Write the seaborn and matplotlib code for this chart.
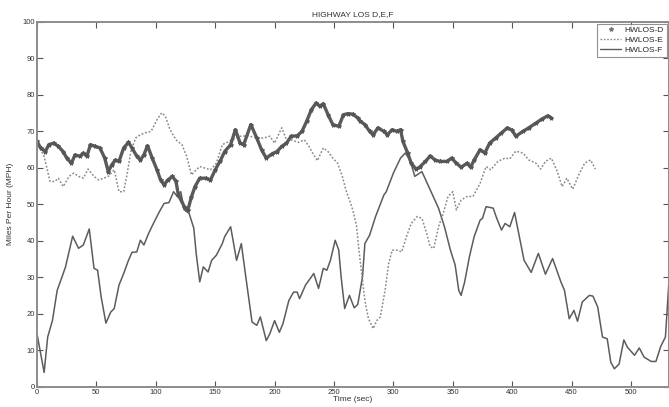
import numpy as np
import pandas as pd
import matplotlib
matplotlib.use("Agg")
import matplotlib.pyplot as plt
from matplotlib.lines import Line2D
import seaborn as sns

# ------------------------------#
# Data
# ------------------------------#
t_d = [0, 3, 7, 10, 14, 18, 22, 25, 29, 32, 36, 39, 42, 45, 49, 53, 57, 60, 63, 66, 69,
       73, 77, 80, 84, 87, 90, 93, 97, 101, 104, 107, 110, 114, 117, 119, 124, 127, 130,
       133, 137, 142, 146, 150, 154, 158, 163, 167, 171, 174, 180, 185, 189, 193, 198,
       202, 206, 210, 214, 219, 223, 227, 231, 235, 238, 241, 245, 249, 254, 258, 262,
       266, 270, 272, 276, 280, 283, 287, 292, 295, 299, 303, 306, 308, 312, 315, 319,
       322, 327, 331, 335, 339, 345, 349, 353, 357, 362, 365, 368, 373, 377, 381, 386,
       391, 396, 400, 403, 409, 414, 420, 425, 430, 433]
v_d = [67.2, 65.4, 64.4, 66.3, 66.7, 65.8, 64.4, 62.6, 61.2, 63.5, 63.1, 64.0, 63.1, 66.3,
       65.8, 65.4, 62.6, 58.9, 60.8, 62.1, 61.7, 65.4, 66.9, 65.4, 63.1, 62.1, 63.5, 66.0,
       62.6, 59.4, 56.6, 55.3, 56.6, 57.6, 56.2, 52.5, 49.3, 48.4, 52.0, 54.8, 57.1, 57.1,
       56.6, 59.4, 61.7, 64.4, 66.3, 70.4, 66.7, 66.3, 71.8, 68.1, 64.9, 62.6, 63.8, 64.4,
       65.8, 66.7, 68.6, 68.7, 69.9, 72.7, 75.9, 77.7, 76.8, 77.5, 74.5, 71.8, 71.3, 74.5,
       74.8, 74.6, 73.6, 72.7, 71.8, 69.9, 69.0, 70.9, 69.9, 69.0, 70.4, 69.9, 70.4, 67.2,
       64.0, 61.2, 59.6, 60.1, 61.7, 63.2, 62.1, 61.7, 61.7, 62.6, 61.2, 60.1, 61.2, 60.1,
       62.1, 64.9, 64.0, 66.7, 68.1, 69.5, 70.9, 70.2, 68.6, 69.9, 70.9, 72.2, 73.3, 74.2,
       73.6]

t_e = [0, 6, 11, 15, 18, 22, 27, 31, 35, 39, 43, 48, 52, 56, 60, 65, 69, 73, 76, 79, 83,
       87, 91, 96, 101, 105, 108, 112, 117, 122, 126, 130, 134, 137, 146, 151, 156, 160,
       164, 171, 178, 185, 191, 196, 200, 206, 210, 214, 220, 225, 229, 232, 236, 241,
       245, 249, 253, 257, 260, 263, 266, 269, 271, 274, 276, 279, 283, 286, 289, 293,
       296, 299, 303, 307, 311, 315, 320, 324, 328, 331, 334, 338, 342, 346, 350, 353,
       357, 362, 367, 373, 378, 382, 388, 394, 398, 403, 409, 414, 420, 424, 428, 433,
       438, 442, 446, 451, 456, 461, 466, 470]
v_e = [67.0, 63.0, 56.2, 56.2, 57.1, 54.8, 57.6, 58.5, 57.6, 57.1, 59.6, 57.6, 56.6, 57.1,
       57.6, 59.4, 53.4, 53.4, 58.5, 64.4, 68.1, 69.0, 69.5, 69.9, 73.1, 75.0, 74.1, 70.4,
       67.6, 66.3, 63.1, 58.0, 59.4, 60.3, 59.4, 61.2, 66.3, 66.9, 67.6, 68.6, 68.7, 68.1,
       68.1, 68.6, 66.7, 70.9, 67.6, 67.6, 66.9, 67.6, 65.8, 64.0, 61.9, 65.4, 64.4, 62.6,
       61.2, 57.6, 53.9, 51.1, 48.2, 44.0, 37.4, 29.1, 23.6, 18.6, 15.9, 18.1, 19.1, 26.4,
       33.7, 37.4, 37.4, 36.9, 41.1, 44.7, 46.6, 46.1, 42.0, 38.3, 37.9, 43.8, 47.5, 52.1,
       53.4, 48.4, 51.1, 52.1, 52.1, 55.7, 60.3, 59.4, 61.7, 62.6, 62.4, 64.5, 64.0, 62.1,
       61.2, 59.6, 61.7, 62.6, 58.9, 54.8, 57.1, 54.1, 58.0, 61.2, 62.1, 59.6]

t_f = [0, 6, 9, 13, 17, 21, 24, 30, 35, 39, 44, 48, 51, 54, 58, 62, 65, 69, 73, 77, 80,
       84, 87, 90, 94, 98, 103, 107, 111, 115, 118, 121, 124, 128, 132, 134, 137, 140,
       144, 147, 151, 156, 158, 163, 168, 172, 175, 181, 185, 188, 193, 196, 200, 204,
       207, 212, 216, 219, 221, 226, 230, 233, 237, 241, 244, 247, 251, 254, 256, 259,
       263, 267, 270, 274, 276, 280, 285, 292, 294, 300, 306, 310, 314, 318, 324, 331,
       338, 343, 348, 352, 355, 357, 360, 364, 368, 373, 375, 378, 384, 387, 391, 394,
       398, 402, 406, 410, 416, 422, 428, 434, 441, 444, 448, 452, 455, 459, 465, 468,
       472, 476, 480, 483, 486, 490, 494, 497, 503, 507, 511, 517, 521, 525, 529, 532]
v_f = [14.5, 3.9, 13.6, 18.1, 26.4, 30.0, 32.8, 41.2, 37.9, 38.8, 43.2, 32.4, 31.9, 24.6,
       17.4, 20.4, 21.4, 27.8, 31.0, 34.6, 36.8, 36.9, 40.1, 38.8, 42.0, 44.7, 47.9, 50.2,
       50.4, 53.4, 52.1, 53.4, 48.4, 47.5, 43.4, 36.5, 28.7, 32.8, 31.4, 34.6, 36.0, 39.2,
       41.1, 43.8, 34.6, 39.2, 31.9, 17.7, 16.8, 19.1, 12.6, 14.5, 18.1, 14.9, 17.2, 23.6,
       25.9, 25.9, 24.1, 27.8, 29.6, 31.0, 26.9, 32.4, 31.9, 34.6, 40.1, 37.4, 30.1, 21.4,
       25.0, 21.6, 22.5, 30.1, 39.2, 41.5, 46.6, 52.5, 53.4, 58.5, 62.6, 64.0, 62.1, 57.6,
       58.9, 53.9, 48.9, 43.8, 37.4, 33.3, 26.4, 25.0, 28.7, 35.6, 41.1, 45.6, 46.1, 49.3,
       48.9, 46.1, 42.9, 44.7, 43.8, 47.7, 41.1, 34.6, 31.3, 36.5, 30.8, 35.1, 28.7, 26.4,
       18.6, 20.9, 17.9, 23.2, 25.0, 24.8, 21.8, 13.6, 13.1, 6.7, 4.9, 6.2, 12.8, 10.8, 8.6,
       10.6, 8.1, 6.9, 6.9, 11.0, 13.6, 29.1]

x_ticks = [0, 50, 100, 150, 200, 250, 300, 350, 400, 450, 500]
y_ticks = [0, 10, 20, 30, 40, 50, 60, 70, 80, 90, 100]

df_d = pd.DataFrame({"Time": t_d, "MPH": v_d})
df_e = pd.DataFrame({"Time": t_e, "MPH": v_e})
df_f = pd.DataFrame({"Time": t_f, "MPH": v_f})

# ------------------------------#
# Plot
# ------------------------------#
sns.set_theme(style="ticks")
plt.rcParams["font.family"] = ["Liberation Sans", "DejaVu Sans"]

fig = plt.figure(figsize=(6.69, 4.07), dpi=100)
ax = fig.add_axes([0.0553, 0.05, 0.9447, 0.897])

sns.lineplot(data=df_f, x="Time", y="MPH", ax=ax, color="#5c5c5c", linewidth=1.1,
             estimator=None, sort=False)
sns.lineplot(data=df_e, x="Time", y="MPH", ax=ax, color="#8a8a8a", linewidth=1.1,
             linestyle=(0, (1.2, 1.2)), estimator=None, sort=False)
sns.lineplot(data=df_d, x="Time", y="MPH", ax=ax, color="#5a5a5a", linewidth=2.4,
             marker="*", markersize=3, markeredgecolor="#555555",
             markerfacecolor="#555555", estimator=None, sort=False)

ax.set_xlim(0, 532)
ax.set_ylim(0, 100)
ax.set_xticks(x_ticks)
ax.set_yticks(y_ticks)
ax.tick_params(direction="in", length=4, width=0.8, color="#555555", labelsize=5.5,
               labelcolor="#333333", top=True, right=True, pad=1.5)
for s in ax.spines.values():
    s.set_color("#8c8c8c")
    s.set_linewidth(1.4)

ax.set_title("HIGHWAY LOS D,E,F", fontsize=6, color="#333333", pad=4)
ax.set_xlabel("Time (sec)", fontsize=6, color="#333333", labelpad=0)
ax.set_ylabel("Miles Per Hour (MPH)", fontsize=6, color="#333333", labelpad=6)

handles = [
    Line2D([], [], linestyle="none", marker="*", markersize=3, color="#777777"),
    Line2D([], [], linestyle=(0, (1.2, 1.2)), linewidth=1, color="#8a8a8a"),
    Line2D([], [], linestyle="-", linewidth=1, color="#5c5c5c"),
]
leg = ax.legend(handles, ["HWLOS-D", "HWLOS-E", "HWLOS-F"], loc="upper right",
                fontsize=6, frameon=True, fancybox=False, borderaxespad=0.3,
                handlelength=2.6, borderpad=0.3, labelspacing=0.25, handletextpad=0.4)
leg.get_frame().set_edgecolor("#777777")
leg.get_frame().set_linewidth(0.8)

fig.savefig("out.png", dpi=100)
